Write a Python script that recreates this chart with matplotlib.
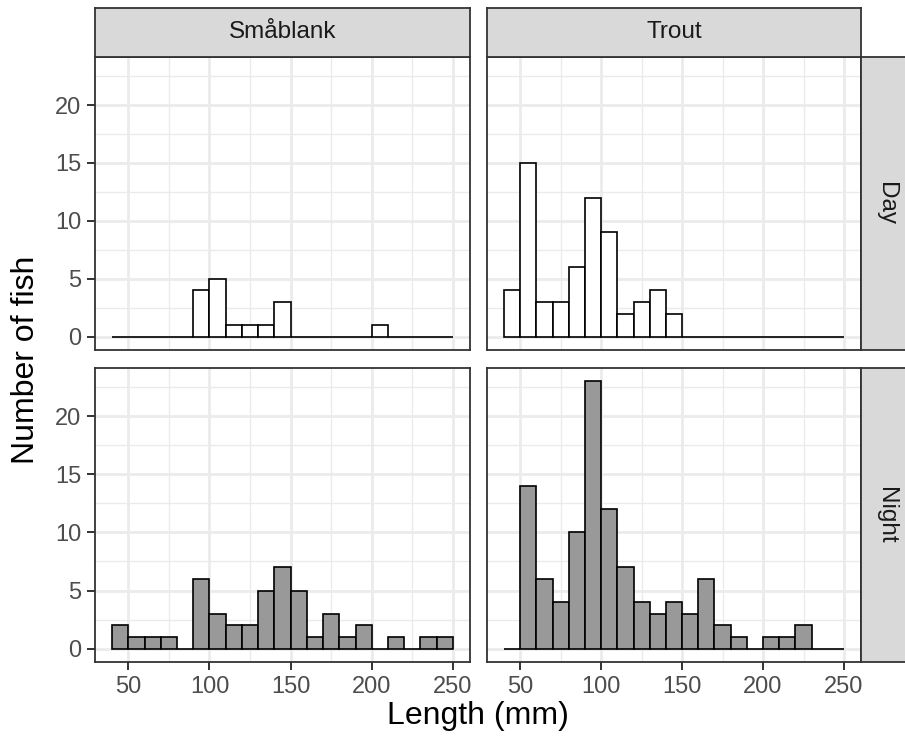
import matplotlib
matplotlib.use("Agg")
import matplotlib.pyplot as plt
from matplotlib.ticker import MultipleLocator

plt.rcParams['font.family'] = ['Liberation Sans', 'DejaVu Sans']

# histogram bins (left edges, width 10 mm)
bin_left = [40, 50, 60, 70, 80, 90, 100, 110, 120, 130, 140,
            150, 160, 170, 180, 190, 200, 210, 220, 230, 240]
bin_width = 10

species = ["Småblank", "Trout"]
periods = ["Day", "Night"]

smablank_day = [0, 0, 0, 0, 0, 4, 5, 1, 1, 1, 3, 0, 0, 0, 0, 0, 1, 0, 0, 0, 0]
trout_day = [4, 15, 3, 3, 6, 12, 9, 2, 3, 4, 2, 0, 0, 0, 0, 0, 0, 0, 0, 0, 0]
smablank_night = [2, 1, 1, 1, 0, 6, 3, 2, 2, 5, 7, 5, 1, 3, 1, 2, 0, 1, 0, 1, 1]
trout_night = [0, 14, 6, 4, 10, 23, 12, 7, 4, 3, 4, 3, 6, 2, 1, 0, 1, 1, 2, 0, 0]

counts = {("Day", "Småblank"): smablank_day, ("Day", "Trout"): trout_day,
          ("Night", "Småblank"): smablank_night, ("Night", "Trout"): trout_night}
fills = {"Day": "white", "Night": "#999999"}

W, H = 905, 740
fig = plt.figure(figsize=(W / 100, H / 100), dpi=100)


def rect(x0, y0, x1, y1):
    return [x0 / W, 1 - y1 / H, (x1 - x0) / W, (y1 - y0) / H]


col_x = [(95, 470), (487, 861)]
row_y = [(57, 350), (368, 662)]
border = "#333333"

for r, period in enumerate(periods):
    for c, sp in enumerate(species):
        x0, x1 = col_x[c]
        y0, y1 = row_y[r]
        ax = fig.add_axes(rect(x0, y0, x1, y1))
        ax.bar(bin_left, counts[(period, sp)], width=bin_width, align='edge',
               facecolor=fills[period], edgecolor='black', linewidth=1.2, zorder=3)
        ax.set_xlim(29.5, 260.5)
        ax.set_ylim(-1.15, 24.15)
        ax.xaxis.set_major_locator(MultipleLocator(50))
        ax.xaxis.set_minor_locator(MultipleLocator(25))
        ax.yaxis.set_major_locator(MultipleLocator(5))
        ax.yaxis.set_minor_locator(MultipleLocator(2.5))
        ax.grid(which='major', color='#EBEBEB', linewidth=2.0, zorder=0)
        ax.grid(which='minor', color='#EBEBEB', linewidth=1.0, zorder=0)
        ax.set_axisbelow(True)
        for s in ax.spines.values():
            s.set_color(border)
            s.set_linewidth(1.3)
            s.set_zorder(5)
        ax.tick_params(which='minor', length=0)
        ax.tick_params(which='major', length=6, width=1.4, color=border,
                       labelsize=17, labelcolor='#4D4D4D', pad=4)
        if c != 0:
            ax.tick_params(axis='y', length=0, labelleft=False)
        if r != 1:
            ax.tick_params(axis='x', length=0, labelbottom=False)

        # facet strips
        if r == 0:
            sax = fig.add_axes(rect(x0, 8, x1, y0))
            sax.set_facecolor('#D9D9D9')
            sax.set_xticks([])
            sax.set_yticks([])
            for s in sax.spines.values():
                s.set_color(border)
                s.set_linewidth(1.3)
            sax.text(0.5, 0.5, sp, transform=sax.transAxes, ha='center',
                     va='center', fontsize=17.5, color='#1A1A1A')
        if c == 1:
            sax = fig.add_axes(rect(x1, y0, x1 + 49, y1))
            sax.set_facecolor('#D9D9D9')
            sax.set_xticks([])
            sax.set_yticks([])
            for s in sax.spines.values():
                s.set_color(border)
                s.set_linewidth(1.3)
            sax.text(0.5, 0.5, period, transform=sax.transAxes, ha='center',
                     va='center', fontsize=17.5, color='#1A1A1A', rotation=-90)

fig.text(478 / W, 1 - 716 / H, "Length (mm)", ha='center', va='center',
         fontsize=23, color='black')
fig.text(26 / W, 1 - 360 / H, "Number of fish", ha='center', va='center',
         fontsize=23, color='black', rotation=90)

fig.savefig("out.png", dpi=100)
